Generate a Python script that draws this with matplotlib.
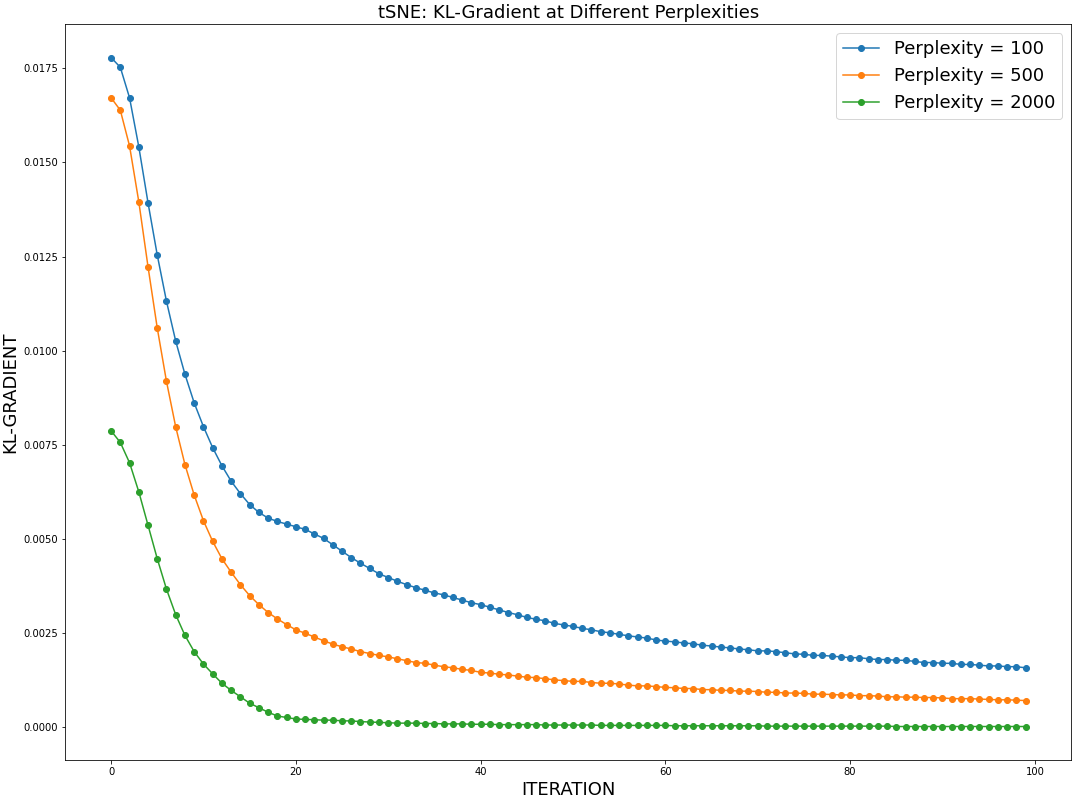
import matplotlib
matplotlib.use("Agg")
import matplotlib.pyplot as plt

iterations = list(range(100))

# perplexity 100
kl_100 = [0.01779, 0.01753, 0.01672, 0.01542, 0.01393, 0.01254, 0.01131, 0.01025, 0.00937, 0.00861,
          0.00798, 0.00742, 0.00694, 0.00653, 0.00620, 0.00591, 0.00570, 0.00555, 0.00546, 0.00539,
          0.00532, 0.00525, 0.00513, 0.00501, 0.00484, 0.00467, 0.00450, 0.00435, 0.00421, 0.00407,
          0.00397, 0.00387, 0.00378, 0.00370, 0.00363, 0.00356, 0.00351, 0.00344, 0.00337, 0.00330,
          0.00325, 0.00318, 0.00311, 0.00304, 0.00298, 0.00291, 0.00286, 0.00282, 0.00275, 0.00271,
          0.00267, 0.00262, 0.00258, 0.00253, 0.00250, 0.00246, 0.00242, 0.00239, 0.00236, 0.00231,
          0.00228, 0.00226, 0.00223, 0.00221, 0.00217, 0.00215, 0.00212, 0.00210, 0.00207, 0.00205,
          0.00202, 0.00202, 0.00200, 0.00197, 0.00194, 0.00193, 0.00190, 0.00190, 0.00188, 0.00186,
          0.00184, 0.00184, 0.00181, 0.00179, 0.00179, 0.00177, 0.00177, 0.00174, 0.00171, 0.00171,
          0.00169, 0.00169, 0.00166, 0.00166, 0.00164, 0.00162, 0.00162, 0.00160, 0.00160, 0.00157]

# perplexity 500
kl_500 = [0.01672, 0.01639, 0.01544, 0.01396, 0.01223, 0.01060, 0.00918, 0.00797, 0.00697, 0.00616,
          0.00548, 0.00493, 0.00447, 0.00411, 0.00378, 0.00349, 0.00325, 0.00304, 0.00287, 0.00272,
          0.00258, 0.00249, 0.00239, 0.00229, 0.00220, 0.00213, 0.00207, 0.00200, 0.00195, 0.00190,
          0.00186, 0.00181, 0.00176, 0.00171, 0.00169, 0.00164, 0.00160, 0.00157, 0.00153, 0.00150,
          0.00145, 0.00143, 0.00140, 0.00138, 0.00135, 0.00132, 0.00131, 0.00128, 0.00125, 0.00123,
          0.00121, 0.00121, 0.00118, 0.00116, 0.00116, 0.00114, 0.00111, 0.00109, 0.00109, 0.00107,
          0.00105, 0.00104, 0.00102, 0.00102, 0.00099, 0.00099, 0.00097, 0.00097, 0.00095, 0.00095,
          0.00094, 0.00092, 0.00092, 0.00090, 0.00090, 0.00089, 0.00087, 0.00087, 0.00086, 0.00085,
          0.00085, 0.00083, 0.00083, 0.00082, 0.00080, 0.00080, 0.00079, 0.00079, 0.00078, 0.00078,
          0.00077, 0.00075, 0.00075, 0.00075, 0.00074, 0.00073, 0.00072, 0.00072, 0.00071, 0.00070]

# perplexity 2000
kl_2000 = [0.00787, 0.00756, 0.00702, 0.00625, 0.00536, 0.00447, 0.00366, 0.00298, 0.00243, 0.00200,
           0.00167, 0.00141, 0.00116, 0.00097, 0.00080, 0.00063, 0.00051, 0.00039, 0.00029, 0.00025,
           0.00021, 0.00020, 0.00019, 0.00018, 0.00018, 0.00016, 0.00016, 0.00014, 0.00013, 0.00012,
           0.00011, 0.00010, 0.00010, 0.00010, 0.00009, 0.00009, 0.00008, 0.00008, 0.00008, 0.00007,
           0.00007, 0.00007, 0.00006, 0.00006, 0.00006, 0.00006, 0.00006, 0.00005, 0.00005, 0.00005,
           0.00005, 0.00005, 0.00005, 0.00004, 0.00004, 0.00004, 0.00004, 0.00004, 0.00004, 0.00004,
           0.00004, 0.00003, 0.00003, 0.00003, 0.00003, 0.00003, 0.00003, 0.00003, 0.00003, 0.00003,
           0.00003, 0.00002, 0.00002, 0.00002, 0.00002, 0.00002, 0.00002, 0.00002, 0.00002, 0.00002,
           0.00002, 0.00002, 0.00002, 0.00002, 0.00002, 0.00001, 0.00001, 0.00001, 0.00001, 0.00001,
           0.00001, 0.00001, 0.00001, 0.00001, 0.00001, 0.00001, 0.00001, 0.00001, 0.00001, 0.00001]

series = [(kl_100, "Perplexity = 100"), (kl_500, "Perplexity = 500"), (kl_2000, "Perplexity = 2000")]

fig, ax = plt.subplots(figsize=(15, 802 / 72), dpi=72)
fig.subplots_adjust(left=0.0605, right=0.992, top=0.970, bottom=0.0524)

for vals, lab in series:
    ax.plot(iterations, vals, marker='o', markersize=6, label=lab)

ax.legend(fontsize=18)
ax.set_title('tSNE: KL-Gradient at Different Perplexities', fontsize=18)
ax.set_xlabel('ITERATION', fontsize=18)
ax.set_ylabel('KL-GRADIENT', fontsize=18)
ax.tick_params(labelsize=10)

fig.savefig('out.png', dpi=72)
